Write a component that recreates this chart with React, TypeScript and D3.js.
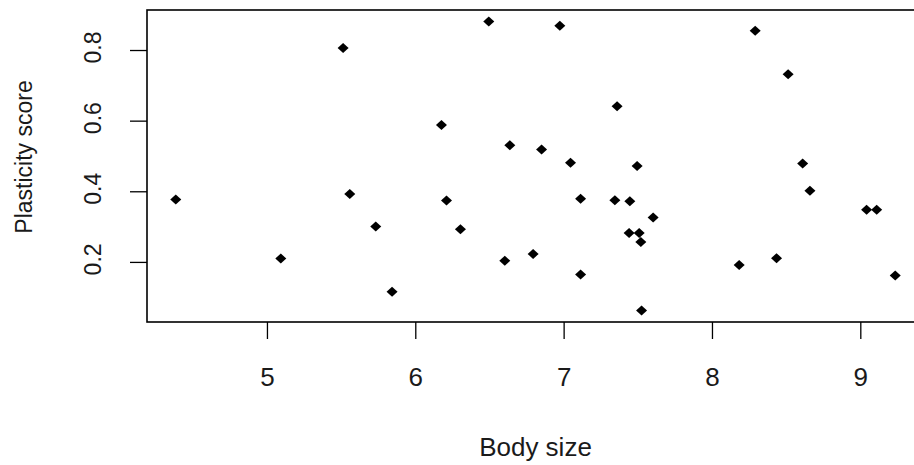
import React from "react";
import * as d3 from "d3";

const bodySize: number[] = [
  4.382, 5.09, 5.51, 5.555, 5.73, 5.84, 6.173, 6.207, 6.301, 6.492, 6.6, 6.634,
  6.791, 6.848, 6.971, 7.043, 7.111, 7.111, 7.357, 7.342, 7.443, 7.492, 7.438,
  7.506, 7.517, 7.522, 7.6, 8.18, 8.432, 8.288, 8.51, 8.608, 8.657, 9.039, 9.107,
  9.232,
];
const plasticity: number[] = [
  0.378, 0.211, 0.807, 0.394, 0.302, 0.117, 0.589, 0.375, 0.294, 0.882, 0.205,
  0.532, 0.224, 0.52, 0.87, 0.482, 0.38, 0.166, 0.642, 0.376, 0.373, 0.473,
  0.283, 0.283, 0.258, 0.064, 0.327, 0.193, 0.212, 0.856, 0.733, 0.48, 0.403,
  0.349, 0.349, 0.163,
];
const xTicks: number[] = [5, 6, 7, 8, 9];
const yTicks: number[] = [0.2, 0.4, 0.6, 0.8];
const xTitle = "Body size";
const yTitle = "Plasticity score";

const W = 914;
const H = 465;
const box = { left: 147, right: 924, top: 10, bottom: 322 };

function padExtent(vals: number[]): [number, number] {
  const [lo, hi] = d3.extent(vals) as [number, number];
  const p = (hi - lo) * 0.04;
  return [lo - p, hi + p];
}

export default function App() {
  const x = d3.scaleLinear().domain(padExtent(bodySize)).range([box.left, box.right]);
  const y = d3.scaleLinear().domain(padExtent(plasticity)).range([box.bottom, box.top]);
  const pts = bodySize.map((b, i) => ({ b, p: plasticity[i] }));
  const diamond = (cx: number, cy: number) =>
    `M${cx - 5.5},${cy}L${cx},${cy - 5}L${cx + 5.5},${cy}L${cx},${cy + 5}Z`;
  const font = "'Liberation Sans', Arial, sans-serif";
  const tickLen = 17;
  const textColor = "#1a1a1a";
  return (
    <svg
      width={W}
      height={H}
      style={{ position: "absolute", left: 0, top: 0, background: "#fff" }}
      fontFamily={font}
    >
      <rect x={0} y={0} width={W} height={H} fill="#fff" />
      <rect
        x={box.left}
        y={box.top}
        width={box.right - box.left}
        height={box.bottom - box.top}
        fill="none"
        stroke="#000"
        strokeWidth={1.6}
      />
      {xTicks.map((t) => (
        <g key={"xt" + t}>
          <line x1={x(t)} x2={x(t)} y1={box.bottom} y2={box.bottom + tickLen} stroke="#000" strokeWidth={1.3} />
          <text x={x(t)} y={386} textAnchor="middle" fontSize={26} fill={textColor}>
            {t}
          </text>
        </g>
      ))}
      {yTicks.map((t) => (
        <g key={"yt" + t}>
          <line x1={box.left - tickLen} x2={box.left} y1={y(t)} y2={y(t)} stroke="#000" strokeWidth={1.3} />
          <text
            transform={`translate(101,${y(t) - 3}) rotate(-90)`}
            textAnchor="middle"
            fontSize={23}
            fill={textColor}
          >
            {t.toFixed(1)}
          </text>
        </g>
      ))}
      <text x={(box.left + box.right) / 2} y={456} textAnchor="middle" fontSize={26} fill={textColor}>
        {xTitle}
      </text>
      <text
        transform={`translate(32,157) rotate(-90)`}
        textAnchor="middle"
        fontSize={23}
        fill={textColor}
      >
        {yTitle}
      </text>
      {pts.map((d, i) => (
        <path key={i} d={diamond(x(d.b), y(d.p))} fill="#000" />
      ))}
    </svg>
  );
}
